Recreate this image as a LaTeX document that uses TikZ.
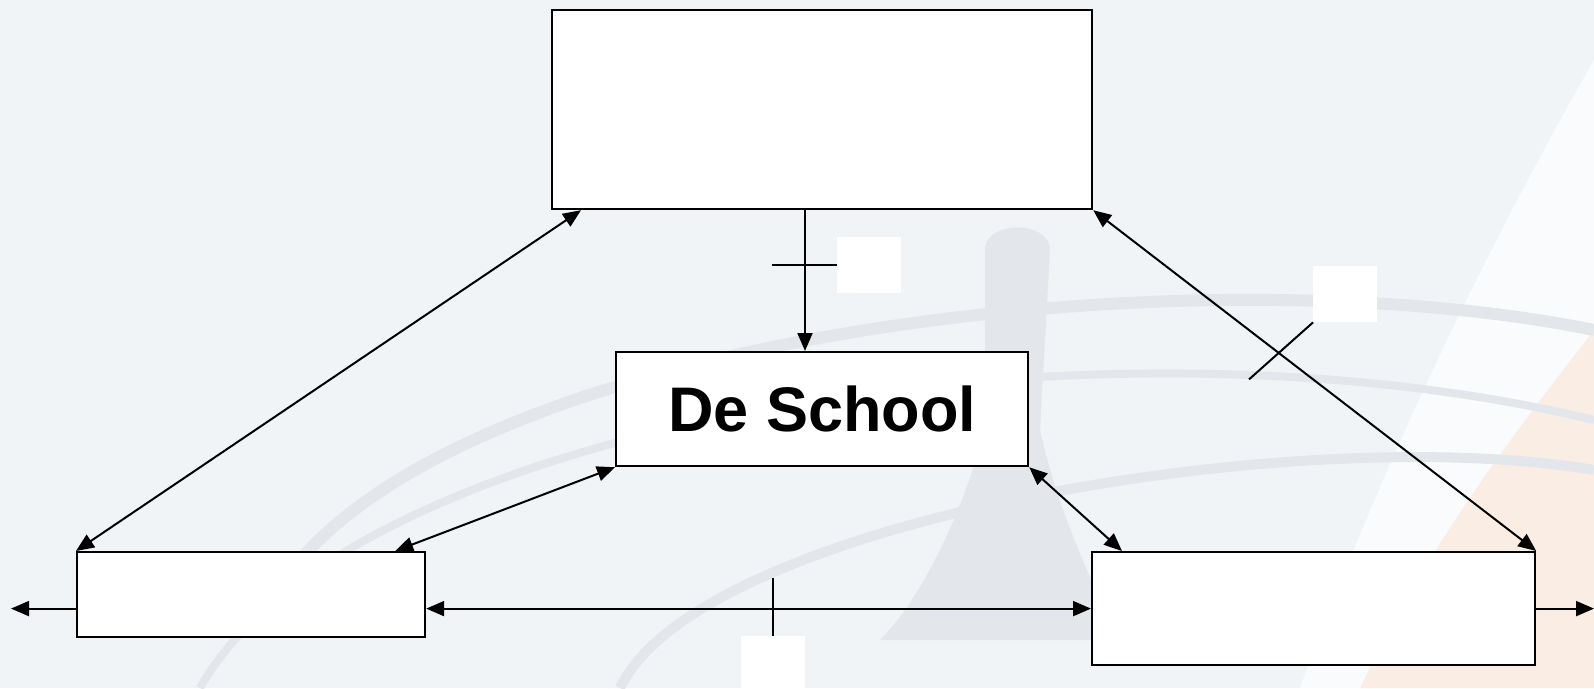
\documentclass[tikz,border=0pt]{standalone}
\usepackage{fontspec}
\setmainfont{Liberation Sans}
\usetikzlibrary{arrows.meta,calc}
\definecolor{bgc}{HTML}{F1F4F6}
\definecolor{ripple}{HTML}{E3E7EB}
\definecolor{peach}{HTML}{FAEDE3}
\begin{document}
\begin{tikzpicture}[x=1pt,y=-1pt,
  box/.style={draw=black,line width=2.2pt,fill=white,inner sep=0pt,anchor=north west},
  blank/.style={fill=white,draw=none,inner sep=0pt,anchor=north west},
  conn/.style={line width=2pt,-{Triangle[length=18pt,width=15pt]}},
  conn2/.style={line width=2pt,{Triangle[length=18pt,width=15pt]}-{Triangle[length=18pt,width=15pt]}},
  tick/.style={line width=2pt}]
\useasboundingbox (0,0) rectangle (1594,688);
% background
\fill[bgc] (0,0) rectangle (1594,688);
\fill[peach] (1594,330) .. controls (1500,450) and (1420,560) .. (1360,688) -- (1594,688) -- cycle;
\fill[white,opacity=0.7] (1594,60) .. controls (1480,260) and (1380,470) .. (1300,688) -- (1360,688) .. controls (1420,560) and (1500,450) .. (1594,330) -- cycle;
\draw[ripple,line width=12pt] (300,560) .. controls (500,330) and (1200,250) .. (1594,330);
\draw[ripple,line width=8pt] (200,688) .. controls (350,420) and (1100,300) .. (1594,420);
\draw[ripple,line width=10pt] (620,688) .. controls (700,520) and (1300,420) .. (1594,470);
\fill[ripple] (985,250) .. controls (985,220) and (1050,220) .. (1050,250) -- (1040,430) .. controls (1060,520) and (1100,600) .. (1120,640) -- (880,640) .. controls (920,600) and (960,520) .. (985,430) -- cycle;
% boxes
\node[box,minimum width=540pt,minimum height=199pt] (top) at (551,9) {};
\node[box,minimum width=412pt,minimum height=114pt] (school) at (615,351) {\bfseries\fontsize{63}{66}\selectfont De School};
\node[box,minimum width=348pt,minimum height=85pt] (lbox) at (76,551) {};
\node[box,minimum width=443pt,minimum height=113pt] (rbox) at (1091,551) {};
% label blanks
\node[blank,minimum width=64pt,minimum height=56pt] (b1) at (837,237) {};
\node[blank,minimum width=64pt,minimum height=56pt] (b2) at (1313,266) {};
\node[blank,minimum width=64pt,minimum height=52pt] (b3) at (741,636) {};
% free ends
\coordinate (lend) at (11,607);
\coordinate (rend) at (1594,607);
% connectors
\draw[conn] (top.south -| 805,0) -- (school.north -| 805,0);
\draw[conn2] ([xshift=30pt]top.south west) -- (lbox.north west);
\draw[conn2] (top.south east) -- (rbox.north east);
\draw[conn2] (school.south west) -- ([xshift=-31pt]lbox.north east);
\draw[conn2] (school.south east) -- ([xshift=31pt]rbox.north west);
\draw[conn2] (rbox.west -| lbox.east) -- (rbox.west);
\draw[conn] (rbox.west -| lbox.west) -- (lend |- rbox.west);
\draw[conn] (rbox.east) -- (rend |- rbox.east);
% ticks
\draw[tick] (b1.west) -- ++(-65,0);
\draw[tick] (b2.south west) -- ++(-64,57);
\draw[tick] ($(b3.north west)+(32,0)$) -- ++(0,-58);
\end{tikzpicture}
\end{document}
